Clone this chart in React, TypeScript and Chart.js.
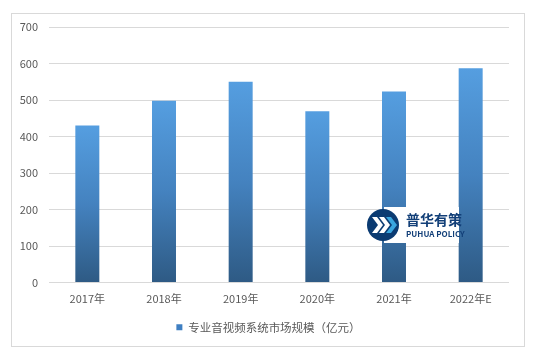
import React, { useEffect, useRef } from "react";
import { Chart, registerables } from "chart.js";

Chart.register(...registerables);

const categories = ["2017年", "2018年", "2019年", "2020年", "2021年", "2022年E"];
const marketSize = [430, 498, 550, 469, 523, 587];
const seriesName = "专业音视频系统市场规模（亿元）";
const yTicks = [0, 100, 200, 300, 400, 500, 600, 700];

const FONT = '"Noto Sans CJK SC", "Noto Sans", sans-serif';

const centerLegend = {
  id: "centerLegend",
  beforeDraw(chart: any) {
    const lg = chart.legend;
    if (lg) {
      lg.left = 28;
      lg.right = 509;
      lg.width = lg.right - lg.left;
    }
  },
};

const watermark = {
  id: "watermark",
  afterDatasetsDraw(chart: any) {
    const ctx = chart.ctx;
    ctx.save();
    ctx.fillStyle = "#ffffff";
    ctx.fillRect(384, 207, 75, 36);
    const cx = 383, cy = 225, r = 16;
    ctx.beginPath();
    ctx.arc(cx, cy, r, 0, Math.PI * 2);
    ctx.fillStyle = "#0b3b72";
    ctx.fill();
    const chevron = (x: number, color: string) => {
      ctx.beginPath();
      ctx.moveTo(x, cy - 8);
      ctx.lineTo(x + 5, cy - 8);
      ctx.lineTo(x + 11, cy);
      ctx.lineTo(x + 5, cy + 8);
      ctx.lineTo(x, cy + 8);
      ctx.lineTo(x + 6, cy);
      ctx.closePath();
      ctx.fillStyle = color;
      ctx.fill();
    };
    chevron(cx - 11, "#ffffff");
    chevron(cx - 4, "#ffffff");
    chevron(cx + 3, "#3aa6df");
    ctx.fillStyle = "#123f78";
    ctx.textBaseline = "middle";
    ctx.textAlign = "left";
    ctx.font = `bold 14px ${FONT}`;
    ctx.fillText("普华有策", 406, 220);
    ctx.font = `bold 8px ${FONT}`;
    ctx.fillText("PUHUA POLICY", 406, 234);
    ctx.restore();
  },
};

export default function App() {
  const ref = useRef<HTMLCanvasElement>(null);

  useEffect(() => {
    if (!ref.current) return;
    const chart = new Chart(ref.current, {
      type: "bar",
      data: {
        labels: categories,
        datasets: [
          {
            label: seriesName,
            data: marketSize,
            categoryPercentage: 1,
            barPercentage: 0.313,
            backgroundColor: (c: any) => {
              const ch = c.chart;
              const ys = ch.scales && ch.scales.y;
              if (!ys || c.type !== "data") return "#4482bf";
              const top = ys.getPixelForValue(c.parsed.y);
              const bottom = ys.getPixelForValue(0);
              const g = ch.ctx.createLinearGradient(0, top, 0, bottom);
              g.addColorStop(0, "#559ee0");
              g.addColorStop(0.5, "#4482bf");
              g.addColorStop(1, "#2e5a84");
              return g;
            },
          },
        ],
      },
      options: {
        responsive: false,
        animation: false,
        layout: { padding: { left: 0, right: 28, top: 27, bottom: 21 } },
        scales: {
          y: {
            min: 0,
            max: 700,
            afterFit: (s: any) => {
              s.width = 49;
            },
            afterBuildTicks: (s: any) => {
              s.ticks = yTicks.map((v) => ({ value: v }));
            },
            ticks: {
              color: "#595959",
              font: { family: FONT, size: 11 },
              padding: 11,
            },
            grid: { color: "#d9d9d9", drawTicks: false, lineWidth: 1 },
            border: { display: false },
          },
          x: {
            afterFit: (s: any) => {
              s.height = 29;
            },
            ticks: {
              color: "#595959",
              font: { family: FONT, size: 11 },
              padding: 10,
            },
            grid: { display: false, drawTicks: false },
            border: { display: false },
          },
        },
        plugins: {
          legend: {
            position: "bottom",
            labels: {
              boxWidth: 6,
              boxHeight: 6,
              padding: 10,
              color: "#595959",
              font: { family: FONT, size: 11.5 },
              generateLabels: (ch: any) =>
                ch.data.datasets.map((d: any, i: number) => ({
                  text: d.label,
                  fillStyle: "#3f7fc2",
                  strokeStyle: "#3f7fc2",
                  lineWidth: 0,
                  fontColor: "#595959",
                  datasetIndex: i,
                })),
            },
          },
          tooltip: { enabled: false },
        },
      },
      plugins: [centerLegend, watermark],
    });
    return () => chart.destroy();
  }, []);

  return (
    <div style={{ position: "absolute", left: 0, top: 0, width: 537, height: 364, background: "#fff" }}>
      <div
        style={{
          position: "absolute",
          left: 11,
          top: 13,
          width: 512,
          height: 332,
          border: "1px solid #d9d9d9",
        }}
      />
      <canvas ref={ref} width={537} height={364} style={{ position: "absolute", left: 0, top: 0 }} />
    </div>
  );
}
